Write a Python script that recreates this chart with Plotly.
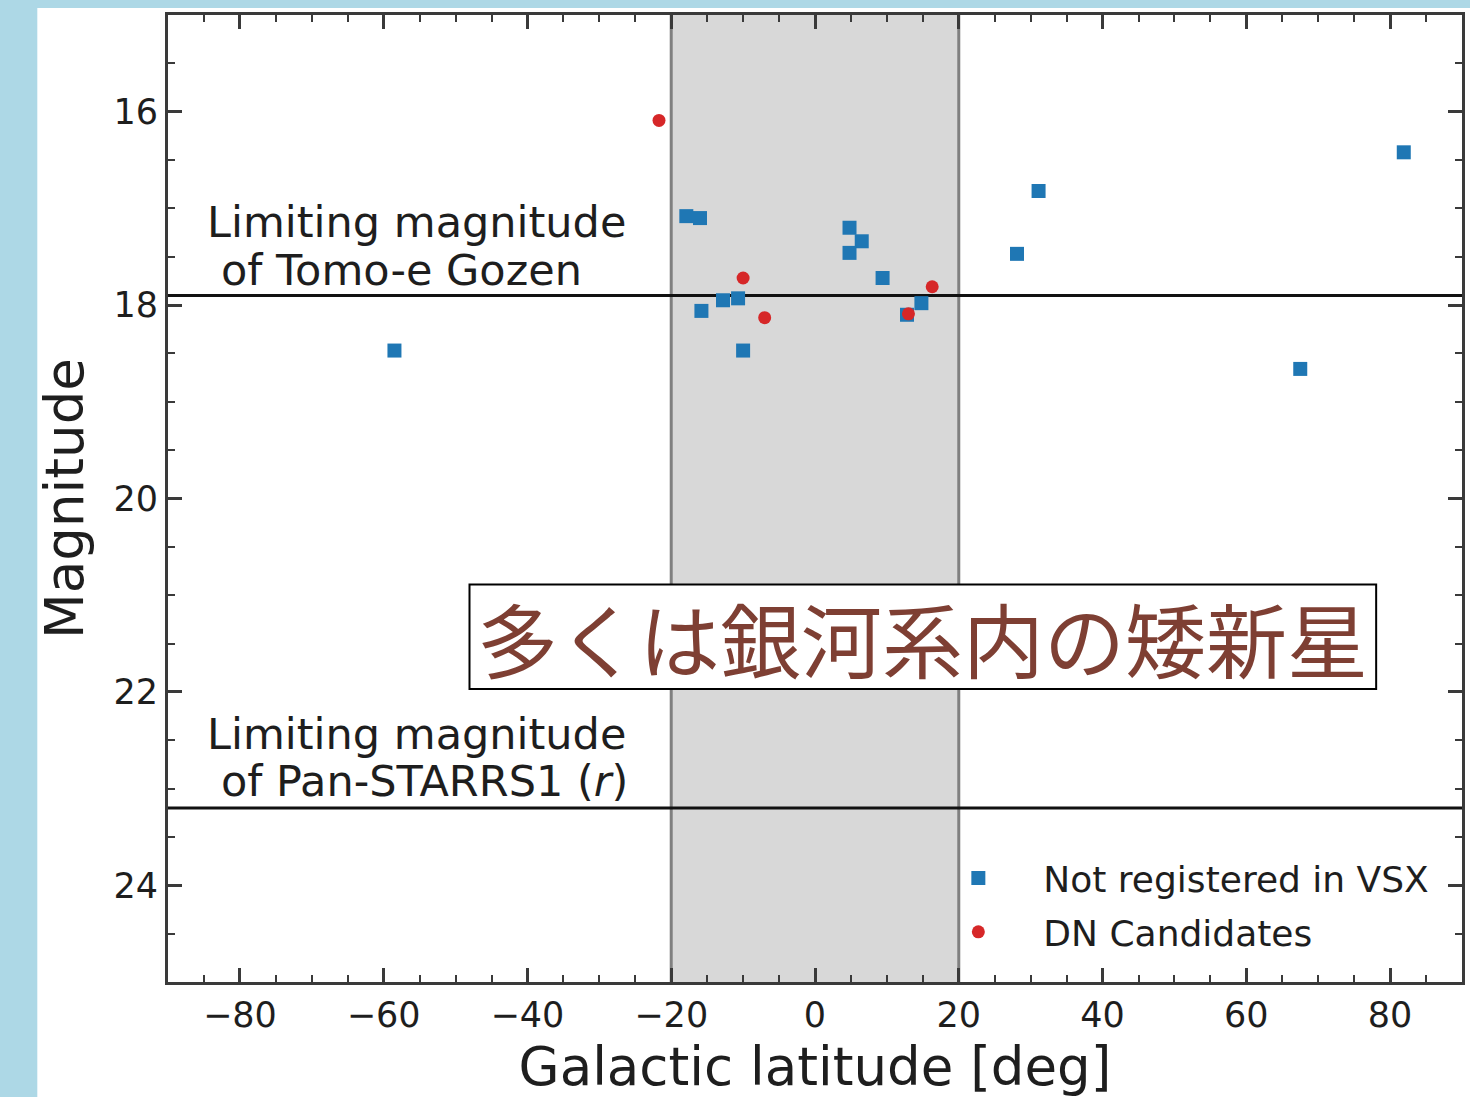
import plotly.graph_objects as go

# ---- data ----
vsx_lat = [-58.5, -17.9, -16.0, -15.8, -12.8, -10.7, -10.0, 4.8, 6.5, 4.8, 9.4, 12.8, 14.8, 28.1, 31.1, 67.5, 81.9]
vsx_mag = [18.47, 17.08, 17.10, 18.06, 17.95, 17.93, 18.47, 17.20, 17.34, 17.46, 17.72, 18.10, 17.98, 17.47, 16.82, 18.66, 16.42]
dn_lat = [-21.7, -10.0, -7.0, 13.0, 16.3]
dn_mag = [16.09, 17.72, 18.13, 18.09, 17.81]

limit_tomoe = 17.9
limit_ps1 = 23.2
band = [-20, 20]

x_ticks = [-80, -60, -40, -20, 0, 20, 40, 60, 80]
y_ticks = [16, 18, 20, 22, 24]

FONT = "DejaVu Sans"
TXT = "#1e1e1e"
AX = "#3a3a3a"

W, H = 1470, 1097
ML, MR, MT, MB = 168, 5, 15, 115
PW, PH = W - ML - MR, H - MT - MB

fig = go.Figure()
fig.add_trace(go.Scatter(x=vsx_lat, y=vsx_mag, mode="markers", name="Not registered in VSX",
                         marker=dict(symbol="square", size=14, color="#1f77b4"), legendgroup="a"))
fig.add_trace(go.Scatter(x=dn_lat, y=dn_mag, mode="markers", name="DN Candidates",
                         marker=dict(symbol="circle", size=13, color="#d62728"), legendgroup="b"))

shapes = [
    # white page area (light blue strips remain on left and top)
    dict(type="rect", xref="paper", yref="paper", x0=(37 - ML) / PW, x1=1.5, y0=-0.5,
         y1=1 + (MT - 8) / PH, fillcolor="white", line_width=0, layer="below"),
    dict(type="rect", xref="x", yref="y", x0=band[0], x1=band[1], y0=25, y1=15,
         fillcolor="rgb(216,216,216)", line_width=0, layer="below"),
    dict(type="line", xref="x", yref="y", x0=band[0], x1=band[0], y0=25, y1=15,
         line=dict(color="rgb(128,128,128)", width=3), layer="below"),
    dict(type="line", xref="x", yref="y", x0=band[1], x1=band[1], y0=25, y1=15,
         line=dict(color="rgb(128,128,128)", width=3), layer="below"),
    dict(type="line", xref="x", yref="y", x0=-90, x1=90, y0=limit_tomoe, y1=limit_tomoe,
         line=dict(color="#111", width=3), layer="below"),
    dict(type="line", xref="x", yref="y", x0=-90, x1=90, y0=limit_ps1, y1=limit_ps1,
         line=dict(color="#111", width=3), layer="below"),
    # Japanese box
    dict(type="rect", xref="x", yref="y", x0=-48.06, x1=78.06, y0=20.89, y1=21.97,
         fillcolor="white", line=dict(color="black", width=2), layer="above"),
]

annotations = [
    dict(x=-84.9, y=17.14, xref="x", yref="y", text="Limiting magnitude", showarrow=False,
         xanchor="left", yanchor="middle", font=dict(family=FONT, size=43, color=TXT)),
    dict(x=-82.9, y=17.64, xref="x", yref="y", text="of Tomo-e Gozen", showarrow=False,
         xanchor="left", yanchor="middle", font=dict(family=FONT, size=43, color=TXT)),
    dict(x=-84.9, y=22.435, xref="x", yref="y", text="Limiting magnitude", showarrow=False,
         xanchor="left", yanchor="middle", font=dict(family=FONT, size=43, color=TXT)),
    dict(x=-82.9, y=22.92, xref="x", yref="y", text="of Pan-STARRS1 (<i>r</i>)", showarrow=False,
         xanchor="left", yanchor="middle", font=dict(family=FONT, size=43, color=TXT)),
    dict(x=15.0, y=21.43, xref="x", yref="y", text="多くは銀河系内の矮新星", showarrow=False,
         xanchor="center", yanchor="middle",
         font=dict(family="Noto Sans CJK JP", size=81, color="#7e3f33")),
]

fig.update_layout(
    width=W, height=H,
    margin=dict(l=ML, r=MR, t=MT, b=MB),
    paper_bgcolor="rgb(173,216,230)",
    plot_bgcolor="rgba(0,0,0,0)",
    shapes=shapes,
    annotations=annotations,
    font=dict(family=FONT, color=TXT),
    legend=dict(x=0.576, y=0.0795, xanchor="left", yanchor="middle", bgcolor="rgba(0,0,0,0)",
                font=dict(family=FONT, size=36, color=TXT), itemwidth=120,
                tracegroupgap=4, traceorder="grouped"),
    xaxis=dict(range=[-90, 90], tickvals=x_ticks, showgrid=False, zeroline=False,
               ticks="inside", ticklen=14, tickwidth=2.5, tickcolor=AX,
               showline=True, linewidth=3, linecolor=AX, mirror="allticks",
               tickfont=dict(family=FONT, size=35, color=TXT),
               minor=dict(dtick=5, tick0=0, ticks="inside", ticklen=7, tickwidth=2, tickcolor=AX),
               title=dict(text="Galactic latitude [deg]", font=dict(family=FONT, size=53, color=TXT), standoff=16)),
    yaxis=dict(range=[25, 15], tickvals=y_ticks, showgrid=False, zeroline=False,
               ticks="inside", ticklen=14, tickwidth=2.5, tickcolor=AX,
               showline=True, linewidth=3, linecolor=AX, mirror="allticks",
               tickfont=dict(family=FONT, size=35, color=TXT),
               minor=dict(dtick=0.5, tick0=15, ticks="inside", ticklen=7, tickwidth=2, tickcolor=AX),
               title=dict(text="Magnitude", font=dict(family=FONT, size=53, color=TXT), standoff=13)),
)

fig.write_html("out.html", config={"displayModeBar": False},
               post_script="document.body.style.margin='0';")
